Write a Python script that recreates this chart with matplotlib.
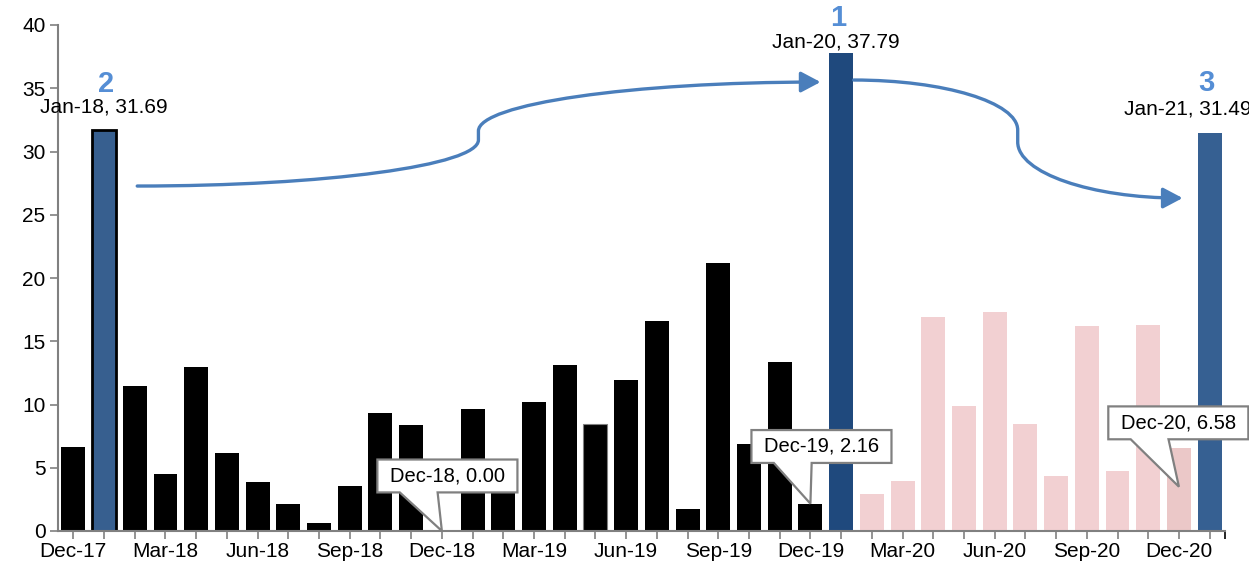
import matplotlib
matplotlib.use('Agg')
import matplotlib.pyplot as plt
from matplotlib.path import Path
from matplotlib.patches import FancyArrowPatch, Polygon

plt.rcParams['font.family'] = ['Liberation Sans', 'DejaVu Sans']

months = ['Dec-17', 'Jan-18', 'Feb-18', 'Mar-18', 'Apr-18', 'May-18', 'Jun-18',
          'Jul-18', 'Aug-18', 'Sep-18', 'Oct-18', 'Nov-18', 'Dec-18',
          'Jan-19', 'Feb-19', 'Mar-19', 'Apr-19', 'May-19', 'Jun-19',
          'Jul-19', 'Aug-19', 'Sep-19', 'Oct-19', 'Nov-19', 'Dec-19',
          'Jan-20', 'Feb-20', 'Mar-20', 'Apr-20', 'May-20', 'Jun-20',
          'Jul-20', 'Aug-20', 'Sep-20', 'Oct-20', 'Nov-20', 'Dec-20', 'Jan-21']
values = [6.65, 31.69, 11.43, 4.49, 12.96, 6.17, 3.84,
          2.13, 0.63, 3.55, 9.35, 8.36, 0.00,
          9.62, 4.2, 10.23, 13.16, 8.44, 11.91,
          16.57, 1.71, 21.15, 6.91, 13.39, 2.16,
          37.79, 2.96, 3.92, 16.89, 9.92, 17.29,
          8.42, 4.38, 16.23, 4.72, 16.32, 6.58, 31.49]

# highlighted peaks: (index, rank number)
peaks = [(25, '1'), (1, '2'), (37, '3')]
# callouts for December values
callouts = ['Dec-18', 'Dec-19', 'Dec-20']

colors = ['#F2D0D2' if m.endswith('-20') else 'black' for m in months]
colors[1] = '#375F8F'
colors[25] = '#1F497D'
colors[36] = '#EBC8C8'
colors[37] = '#366092'
edges = list(colors)
edges[1] = 'black'
edges[17] = '#808080'
widths = [0] * len(months)
widths[1] = 2
widths[17] = 0.8

fig = plt.figure(figsize=(12.49, 5.64), dpi=100)
ax = fig.add_axes([58 / 1249, 33 / 564, 1167 / 1249, 506 / 564])

x = list(range(len(months)))
ax.bar(x, values, width=0.78, color=colors, edgecolor=edges, linewidth=widths, zorder=2)

ax.set_xlim(-0.5, len(months) - 0.5)
ax.set_ylim(0, 40)
ax.set_yticks(range(0, 41, 5))
ax.set_xticks(x)
ax.set_xticklabels([m if i % 3 == 0 else '' for i, m in enumerate(months)])
ax.set_xticks([len(months) - 0.5], minor=True)
ax.tick_params(axis='both', colors='#808080', labelcolor='black', labelsize=15)
ax.tick_params(axis='x', which='both', length=6, width=1.2, pad=2)
ax.tick_params(axis='y', length=6, width=1.2, pad=3)
for s in ['top', 'right']:
    ax.spines[s].set_visible(False)
for s in ['left', 'bottom']:
    ax.spines[s].set_color('#808080')
    ax.spines[s].set_linewidth(1.5)

# peak labels (offsets in points relative to bar tops)
label_offsets = {1: (0, 17), 25: (-3.5, 8), 37: (-16, 17)}
num_offsets = {1: (1.5, 33), 25: (-2, 25), 37: (-2, 36)}
for i, num in peaks:
    ax.annotate(f'{months[i]}, {values[i]:.2f}', (i, values[i]),
                xytext=label_offsets[i], textcoords='offset points',
                ha='center', va='center', fontsize=15, annotation_clip=False)
    ax.annotate(num, (i, values[i]), xytext=num_offsets[i],
                textcoords='offset points', ha='center', va='center',
                fontsize=21, fontweight='bold', color='#558ED5',
                annotation_clip=False)

# December callouts: box centre, tip height (data units)
callout_box = {'Dec-18': (12.18, 4.35), 'Dec-19': (24.36, 6.68), 'Dec-20': (35.98, 8.55)}
callout_tip = {'Dec-18': 0.0, 'Dec-19': 2.16, 'Dec-20': 3.5}
box_w, box_h = 4.56, 2.6
for m in callouts:
    i = months.index(m)
    cx, cy = callout_box[m]
    left, right = cx - box_w / 2, cx + box_w / 2
    top, bot = cy + box_h / 2, cy - box_h / 2
    shape = [(left, top), (right, top), (right, bot),
             (left + 0.43 * box_w, bot), (i, callout_tip[m]),
             (left + 0.16 * box_w, bot), (left, bot)]
    ax.add_patch(Polygon(shape, closed=True, fc='white', ec='#808080', lw=1.6,
                         zorder=5, joinstyle='miter', clip_on=False))
    ax.text(cx, cy, f'{m}, {values[i]:.2f}', ha='center', va='center',
            fontsize=14.5, zorder=6)

# curved arrows between peaks
arrow_color = '#4A7EBB'
k = 0.552
def s_curve(x0, y0, xm, ya, yb, x1, y1):
    verts = [(x0, y0), (x0 + k * (xm - x0), y0), (xm, ya - k * (ya - y0)), (xm, ya),
             (xm, yb),
             (xm, yb + k * (y1 - yb)), (x1 - k * (x1 - xm), y1), (x1, y1)]
    codes = [Path.MOVETO, Path.CURVE4, Path.CURVE4, Path.CURVE4,
             Path.LINETO,
             Path.CURVE4, Path.CURVE4, Path.CURVE4]
    return Path(verts, codes)

for p in [s_curve(2.08, 27.27, 13.19, 30.91, 31.62, 24.33, 35.49),
          s_curve(25.41, 35.65, 30.75, 31.70, 30.75, 36.12, 26.32)]:
    arr = FancyArrowPatch(path=p, arrowstyle='-|>,head_length=0.85,head_width=0.45',
                          mutation_scale=14, color=arrow_color, lw=2.4,
                          transform=ax.transData, zorder=4)
    ax.add_patch(arr)

fig.savefig('out.png', dpi=100)
